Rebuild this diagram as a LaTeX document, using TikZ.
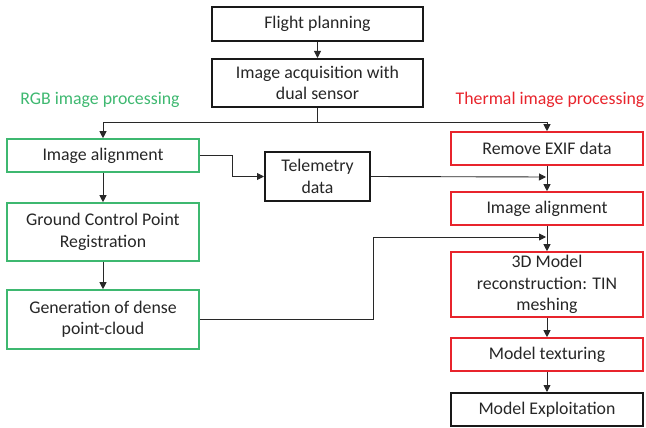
\documentclass[tikz,border=0pt]{standalone}
\usepackage{fontspec}
\setmainfont{Carlito}
\usetikzlibrary{arrows.meta}
\definecolor{rgbgreen}{RGB}{62,184,112}
\definecolor{thermred}{RGB}{232,36,44}
\definecolor{linegray}{RGB}{40,40,40}
\tikzset{
  box/.style={draw, rectangle, align=center, inner sep=2pt,
    font=\fontsize{17.8}{21.5}\selectfont, text=black!85},
  blackbox/.style={box, draw=black!90, line width=2pt},
  greenbox/.style={box, draw=rgbgreen, line width=1.6pt},
  redbox/.style={box, draw=thermred, line width=1.6pt},
  conn/.style={draw=linegray, line width=0.9pt, -{Triangle[length=7pt,width=7pt]}},
  plainconn/.style={draw=linegray, line width=0.9pt},
  grouplabel/.style={font=\fontsize{17.8}{21.5}\selectfont}
}
\begin{document}
\begin{tikzpicture}[x=1pt,y=-1pt]
\useasboundingbox (0,0) rectangle (646,428);
% top nodes
\node[blackbox, minimum width=211pt, minimum height=34pt] (fp) at (317.5,24) {Flight planning};
\node[blackbox, minimum width=211pt, minimum height=48pt] (acq) at (317.5,83) {Image acquisition with\\dual sensor};
% labels
\node[grouplabel, text=rgbgreen] (rgblab) at (100,100) {RGB image processing};
\node[grouplabel, text=thermred] (thlab) at (550,100) {Thermal image processing};
% RGB column
\node[greenbox, minimum width=192pt, minimum height=33pt] (rgba) at (103,155.5) {Image alignment};
\node[greenbox, minimum width=192pt, minimum height=58pt] (gcp) at (103,232) {Ground Control Point\\Registration};
\node[greenbox, minimum width=192pt, minimum height=59pt] (dense) at (103,319.5) {Generation of dense\\point-cloud};
% telemetry
\node[blackbox, minimum width=105pt, minimum height=49pt] (tel) at (317.5,176.5) {Telemetry\\data};
% thermal column
\node[redbox, minimum width=192pt, minimum height=33pt] (exif) at (547,148.5) {Remove EXIF data};
\node[redbox, minimum width=192pt, minimum height=33pt] (ta) at (547,208.5) {Image alignment};
\node[redbox, minimum width=192pt, minimum height=65pt] (m3d) at (547,284.5) {3D Model\\reconstruction: TIN\\meshing};
\node[redbox, minimum width=192pt, minimum height=33pt] (tex) at (547,354.5) {Model texturing};
\node[blackbox, minimum width=192pt, minimum height=33pt] (expl) at (547,409.5) {Model Exploitation};
% junction coordinates
\coordinate (split) at (317.5,122);
\coordinate (telin) at (546,177);
\coordinate (densein) at (546,237);
% connectors
\draw[conn] (fp) -- (acq);
\draw[plainconn] (acq.south) -- (split);
\draw[conn] (split) -| (rgba.north);
\draw[conn] (split) -| (exif.north);
\draw[conn] (rgba) -- (gcp);
\draw[conn] (gcp) -- (dense);
\draw[conn] (rgba.east) -- (232,155.5) |- (tel.west);
\draw[conn] (tel.east) -- (telin);
\draw[conn] (exif) -- (ta);
\draw[conn] (dense.east) -- (373,319.5) |- (densein);
\draw[conn] (ta) -- (m3d);
\draw[conn] (m3d) -- (tex);
\draw[conn] (tex) -- (expl);
\end{tikzpicture}
\end{document}
